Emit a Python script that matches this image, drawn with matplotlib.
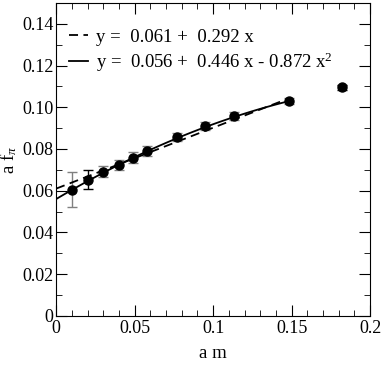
import numpy as np
import matplotlib
matplotlib.use("Agg")
import matplotlib.pyplot as plt
from matplotlib.ticker import MultipleLocator, FormatStrFormatter

plt.rcParams['font.family'] = ['Liberation Serif', 'DejaVu Serif']
plt.rcParams['mathtext.fontset'] = 'custom'
plt.rcParams['mathtext.rm'] = 'Liberation Serif'
plt.rcParams['mathtext.it'] = 'Liberation Serif:italic'

# data
am = [0.010, 0.020, 0.030, 0.040, 0.049, 0.058, 0.077, 0.095, 0.113, 0.148, 0.182]
afpi = [0.0605, 0.0652, 0.0692, 0.0722, 0.0759, 0.0790, 0.0856, 0.0910, 0.0959, 0.1029, 0.1095]
err = [0.0085, 0.0045, 0.0028, 0.0025, 0.0025, 0.0025, 0.0020, 0.0020, 0.0020, 0.0015, 0.0010]
err_colors = ['gray', 'black', 'gray', 'gray', 'gray', 'gray', 'gray', 'gray', 'gray', 'gray', 'black']

# fit coefficients
lin = [0.061, 0.292]
quad = [0.056, 0.446, -0.872]

fig = plt.figure(figsize=(3.82, 3.76), dpi=100)
ax = fig.add_axes([0.147, 0.16, 0.822, 0.832])

# error bars with their own colours
for x, y, e, c in zip(am, afpi, err, err_colors):
    ax.errorbar(x, y, yerr=e, fmt='none', ecolor=c, elinewidth=1.0, capsize=3.5, capthick=1.0)
ax.plot(am, afpi, 'o', color='black', markersize=6.5, zorder=3)

xs = np.linspace(0, 0.148, 100)
ax.plot(xs, lin[0] + lin[1] * xs, '--', color='black', lw=1.3, dashes=(5, 3),
        label='y =  0.061 +  0.292 x')
ax.plot(xs, quad[0] + quad[1] * xs + quad[2] * xs**2, '-', color='black', lw=1.3,
        label='y =  0.056 +  0.446 x - 0.872 x$^{2}$')

ax.set_xlim(0, 0.2)
ax.set_ylim(0, 0.15)
ax.xaxis.set_major_locator(MultipleLocator(0.05))
ax.xaxis.set_minor_locator(MultipleLocator(0.01))
ax.yaxis.set_major_locator(MultipleLocator(0.02))
ax.yaxis.set_minor_locator(MultipleLocator(0.01))
ax.xaxis.set_major_formatter(FormatStrFormatter('%g'))
ax.set_yticks([0, 0.02, 0.04, 0.06, 0.08, 0.10, 0.12, 0.14])
ax.set_yticklabels(['0', '0.02', '0.04', '0.06', '0.08', '0.10', '0.12', '0.14'])
ax.tick_params(which='both', direction='in', top=True, right=True, labelsize=13)
ax.tick_params(which='major', length=8)
ax.tick_params(which='minor', length=4)
ax.tick_params(axis='x', pad=3)
ax.tick_params(axis='y', pad=2)

ax.set_xlabel('a m', fontsize=13.5, labelpad=6)
ax.set_ylabel(r'a f$_\pi$', fontsize=13.5, labelpad=2)

ax.legend(loc='upper left', frameon=False, fontsize=13.5, handlelength=1.0,
          handletextpad=0.45, borderaxespad=0.3, labelspacing=0.25,
          bbox_to_anchor=(0.0, 0.96))

fig.savefig('out.png', dpi=100)
